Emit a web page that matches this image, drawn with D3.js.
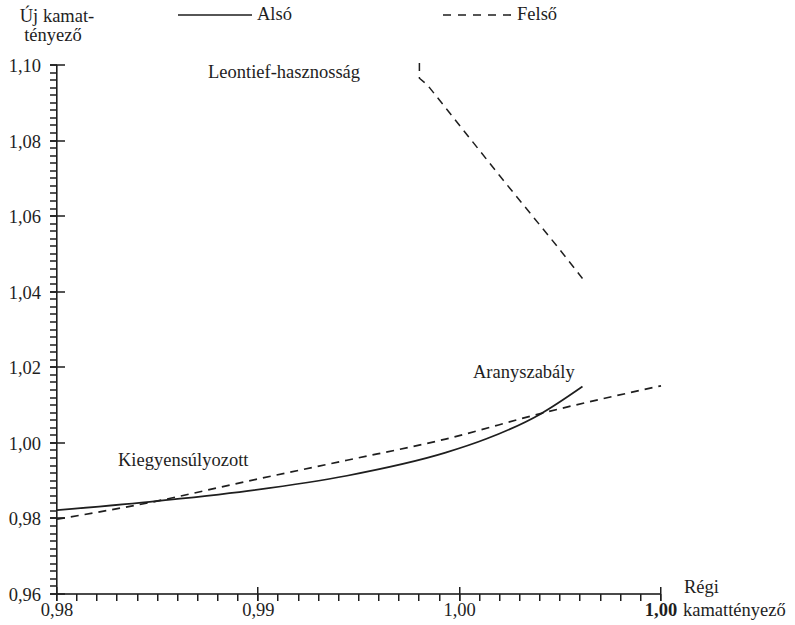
<!DOCTYPE html>
<html>
<head>
<meta charset="utf-8">
<script src="https://cdn.jsdelivr.net/npm/d3@7"></script>
<style>
  body { margin: 0; background: #fff; }
</style>
</head>
<body>
<div id="chart"></div>
<script>
const width = 795;
const height = 625;

// tick values of the axes
const xMajor = [0.98, 0.99, 1.00, 1.01];
const xTickLabels = ["0,98", "0,99", "1,00", "1,00"];
const yMajor = [0.96, 0.98, 1.00, 1.02, 1.04, 1.06, 1.08, 1.10];
const yTickLabels = ["0,96", "0,98", "1,00", "1,02", "1,04", "1,06", "1,08", "1,10"];

// lower bound (solid), Kiegyensúlyozott -> Aranyszabály
const alsoX = [0.9800, 0.9846, 0.9895, 0.9944, 0.9993, 1.0013, 1.0040, 1.0061];
const alsoY = [0.9822, 0.9844, 0.9873, 0.9913, 0.9974, 1.0010, 1.0076, 1.0149];

// upper bound (dashed), lower branch
const felsoX = [0.9800, 0.9846, 0.9895, 0.9944, 0.9993, 1.0042, 1.0100];
const felsoY = [0.9798, 0.9842, 0.9899, 0.9954, 1.0010, 1.0080, 1.0151];

// upper bound (dashed), Leontief branch
const leontiefX = [0.9980, 0.9980, 0.9984, 1.0020, 1.0048, 1.0061];
const leontiefY = [1.1005, 1.0965, 1.0947, 1.0706, 1.0523, 1.0435];

const font = "'Liberation Serif', 'Times New Roman', Times, serif";
const fontSize = 18.5;
const ink = "#1e1e1e";

const svg = d3.select("#chart").append("svg")
  .attr("width", width)
  .attr("height", height)
  .style("font-family", font);

const x = d3.scaleLinear().domain([0.98, 1.01]).range([57, 661]);
const y = d3.scaleLinear().domain([0.96, 1.10]).range([594, 65]);

// minor ticks every 0.001 on x, every 0.002 on y
const xMinor = d3.range(0, 31).map(i => 0.98 + i * 0.001);
const yMinor = d3.range(0, 71).map(i => 0.96 + i * 0.002);

const x0 = x(0.98);
const y0 = y(0.96);

// x axis: minor ticks hang down, majors go both ways
svg.selectAll(".xminor")
  .data(xMinor)
  .join("rect")
  .attr("class", "xminor")
  .attr("x", d => Math.round(x(d)) - 1).attr("y", y0)
  .attr("width", 1.5).attr("height", 7)
  .attr("fill", ink);
svg.selectAll(".xmajor")
  .data(xMajor)
  .join("rect")
  .attr("class", "xmajor")
  .attr("x", d => Math.round(x(d)) - 1).attr("y", y0 - 7)
  .attr("width", 1.5).attr("height", 14)
  .attr("fill", ink);

// y axis: minor ticks to the left, majors go both ways
svg.selectAll(".yminor")
  .data(yMinor)
  .join("rect")
  .attr("class", "yminor")
  .attr("x", x0 - 7).attr("y", d => Math.round(y(d)) - 0.75)
  .attr("width", 7).attr("height", 1.5)
  .attr("fill", ink);
svg.selectAll(".ymajor")
  .data(yMajor)
  .join("rect")
  .attr("class", "ymajor")
  .attr("x", x0 - 7).attr("y", d => Math.round(y(d)) - 0.75)
  .attr("width", 15).attr("height", 1.5)
  .attr("fill", ink);

svg.append("rect")
  .attr("x", x0 - 1).attr("y", y0 - 0.8)
  .attr("width", x(1.01) - x0 + 1).attr("height", 1.6)
  .attr("fill", ink);
svg.append("rect")
  .attr("x", x0 - 1).attr("y", y(1.10))
  .attr("width", 1.6).attr("height", y0 - y(1.10))
  .attr("fill", ink);

// tick labels
svg.append("g").selectAll("text")
  .data(xMajor)
  .join("text")
  .attr("x", d => x(d))
  .attr("y", 616)
  .attr("text-anchor", "middle")
  .attr("font-size", fontSize)
  .attr("fill", ink)
  .attr("font-weight", (d, i) => i === xMajor.length - 1 ? "bold" : "normal")
  .text((d, i) => xTickLabels[i]);

svg.append("g").selectAll("text")
  .data(yMajor)
  .join("text")
  .attr("x", 41)
  .attr("y", d => y(d) + 7)
  .attr("text-anchor", "end")
  .attr("font-size", fontSize)
  .attr("fill", ink)
  .text((d, i) => yTickLabels[i]);

const label = (tx, ty, str, anchor) => svg.append("text")
  .attr("x", tx).attr("y", ty)
  .attr("text-anchor", anchor || "start")
  .attr("font-size", fontSize)
  .attr("fill", ink)
  .text(str);

// axis titles
label(57, 22, "Új kamat-", "middle");
label(53, 41, "tényező", "middle");
label(684, 593, "Régi");
label(683, 616, "kamattényező");

// curves
const line = d3.line().x(d => x(d[0])).y(d => y(d[1]));
const zipPts = (xs, ys) => xs.map((v, i) => [v, ys[i]]);

svg.append("path")
  .datum(zipPts(alsoX, alsoY))
  .attr("d", line.curve(d3.curveMonotoneX))
  .attr("fill", "none")
  .attr("stroke", ink)
  .attr("stroke-width", 1.7);

svg.append("path")
  .datum(zipPts(felsoX, felsoY))
  .attr("d", line.curve(d3.curveMonotoneX))
  .attr("fill", "none")
  .attr("stroke", ink)
  .attr("stroke-width", 1.7)
  .attr("stroke-dasharray", "8,6");

svg.append("path")
  .datum(zipPts(leontiefX, leontiefY))
  .attr("d", d3.line().x(d => x(d[0])).y(d => y(d[1])))
  .attr("fill", "none")
  .attr("stroke", ink)
  .attr("stroke-width", 1.5)
  .attr("stroke-dasharray", "8,6");

// annotations
label(208, 78, "Leontief-hasznosság");
label(473, 378, "Aranyszabály");
label(118, 466, "Kiegyensúlyozott");

// legend
svg.append("line")
  .attr("x1", 178).attr("x2", 252).attr("y1", 15).attr("y2", 15)
  .attr("stroke", ink).attr("stroke-width", 1.6);
label(257, 20, "Alsó");
svg.append("line")
  .attr("x1", 443).attr("x2", 513).attr("y1", 15).attr("y2", 15)
  .attr("stroke", ink).attr("stroke-width", 1.6)
  .attr("stroke-dasharray", "8,7");
label(517, 20, "Felső");
</script>
</body>
</html>
